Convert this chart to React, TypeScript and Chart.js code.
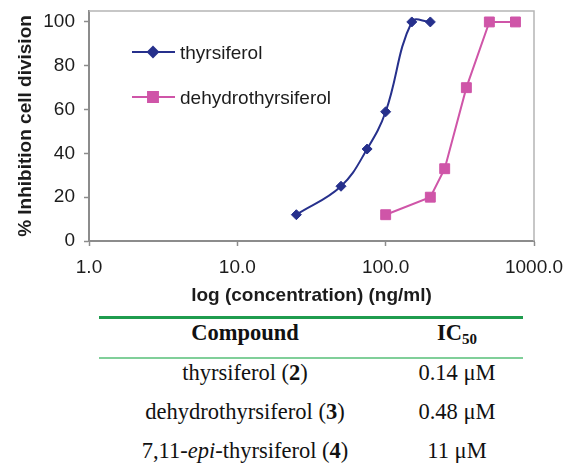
import React, { useEffect, useRef } from "react";
import { Chart, registerables } from "chart.js";
import { drawPoint } from "chart.js/helpers";

Chart.register(...registerables);

// ---- data ----
const thyrsiferolConc = [25, 50, 75, 100, 150, 200];
const thyrsiferolInhib = [12, 25, 42, 59, 100, 100];
const dehydroConc = [100, 200, 250, 350, 500, 750];
const dehydroInhib = [12, 20, 33, 70, 100, 100];
const seriesNames = ["thyrsiferol", "dehydrothyrsiferol"];
const xTickValues = [1, 10, 100, 1000];
const xTickLabels = ["1.0", "10.0", "100.0", "1000.0"];
const yTickValues = [0, 20, 40, 60, 80, 100];
const xAxisTitle = "log (concentration) (ng/ml)";
const yAxisTitle = "% Inhibition cell division";

const compoundHeader = "Compound";
const ic50HeaderMain = "IC";
const ic50HeaderSub = "50";
const compoundNames = ["thyrsiferol", "dehydrothyrsiferol", "7,11-*epi*-thyrsiferol"];
const compoundNumbers = ["2", "3", "4"];
const ic50Values = ["0.14 μM", "0.48 μM", "11 μM"];

// ---- styles ----
const SANS = "'Liberation Sans', Arial, Helvetica, sans-serif";
const SERIF = "'Liberation Serif', 'Times New Roman', Times, serif";
const TEXT = "#1c1c1c";
const BLUE = "#26308c";
const PINK = "#cf55a8";
const AXIS = "#8c8c8c";
const FRAME = "#b5b5b5";

const framePlugin = {
  id: "plotFrame",
  beforeDatasetsDraw(chart: any) {
    const { ctx, chartArea } = chart;
    const { left, top, right, bottom } = chartArea;
    ctx.save();
    ctx.strokeStyle = FRAME;
    ctx.lineWidth = 1.5;
    ctx.beginPath();
    ctx.moveTo(left, top);
    ctx.lineTo(right, top);
    ctx.lineTo(right, bottom);
    ctx.stroke();
    ctx.restore();
  },
};

const insideLegend = {
  id: "insideLegend",
  afterDatasetsDraw(chart: any) {
    const { ctx, chartArea } = chart;
    chart.data.datasets.forEach((ds: any, i: number) => {
      const y = chartArea.top + 41 + i * 45;
      const x0 = chartArea.left + 43;
      const x1 = chartArea.left + 86;
      const xm = chartArea.left + 64;
      ctx.save();
      ctx.strokeStyle = ds.borderColor;
      ctx.lineWidth = 2;
      ctx.beginPath();
      ctx.moveTo(x0, y);
      ctx.lineTo(x1, y);
      ctx.stroke();
      ctx.fillStyle = ds.pointBackgroundColor;
      ctx.strokeStyle = ds.pointBorderColor;
      drawPoint(
        ctx,
        { pointStyle: ds.pointStyle, radius: ds.pointRadius, rotation: 0, borderWidth: 1 } as any,
        xm,
        y
      );
      ctx.fillStyle = TEXT;
      ctx.font = `19px ${SANS}`;
      ctx.textBaseline = "middle";
      ctx.textAlign = "left";
      ctx.fillText(ds.label, chartArea.left + 91, y + 2);
      ctx.restore();
    });
  },
};

function renderCompound(name: string, num: string) {
  const parts = name.split("*");
  return (
    <>
      {parts.map((p, i) => (i % 2 === 1 ? <i key={i}>{p}</i> : <span key={i}>{p}</span>))}
      {" ("}
      <b>{num}</b>
      {")"}
    </>
  );
}

export default function App() {
  const ref = useRef<HTMLCanvasElement>(null);

  useEffect(() => {
    if (!ref.current) return;
    const chart = new Chart(ref.current, {
      type: "line",
      data: {
        datasets: [
          {
            label: seriesNames[0],
            data: thyrsiferolConc.map((x, i) => ({ x, y: thyrsiferolInhib[i] })),
            borderColor: BLUE,
            backgroundColor: BLUE,
            pointBackgroundColor: BLUE,
            pointBorderColor: BLUE,
            pointStyle: "rectRot",
            pointRadius: 5,
            pointBorderWidth: 1,
            borderWidth: 2,
            tension: 0.4,
            fill: false,
          },
          {
            label: seriesNames[1],
            data: dehydroConc.map((x, i) => ({ x, y: dehydroInhib[i] })),
            borderColor: PINK,
            backgroundColor: PINK,
            pointBackgroundColor: PINK,
            pointBorderColor: PINK,
            pointStyle: "rect",
            pointRadius: 7,
            pointBorderWidth: 1,
            borderWidth: 2,
            tension: 0,
            fill: false,
          },
        ],
      },
      options: {
        responsive: false,
        maintainAspectRatio: false,
        animation: false,
        devicePixelRatio: 1,
        layout: { padding: { top: 11, right: 35, left: 0, bottom: 0 } },
        plugins: {
          legend: { display: false },
          tooltip: { enabled: false },
        },
        scales: {
          x: {
            type: "logarithmic",
            position: "bottom",
            min: 1,
            max: 1000,
            afterBuildTicks: (s: any) => {
              s.ticks = xTickValues.map((v) => ({ value: v }));
            },
            afterFit: (s: any) => {
              s.height = 71;
              s.paddingLeft = 0;
              s.paddingRight = 0;
            },
            ticks: {
              autoSkip: false,
              maxRotation: 0,
              padding: 10,
              color: TEXT,
              font: { family: SANS, size: 19 },
              callback: (v: any) => xTickLabels[xTickValues.indexOf(Number(v))] ?? "",
            },
            grid: {
              display: true,
              drawOnChartArea: false,
              drawTicks: true,
              tickLength: 5,
              tickColor: AXIS,
              tickWidth: 1.5,
            },
            border: { display: true, color: AXIS, width: 2 },
            title: {
              display: true,
              text: xAxisTitle,
              color: TEXT,
              font: { family: SANS, size: 19, weight: "bold" },
              padding: { top: 0, bottom: 5 },
            },
          },
          y: {
            type: "linear",
            min: 0,
            max: 105,
            afterBuildTicks: (s: any) => {
              s.ticks = yTickValues.map((v) => ({ value: v }));
            },
            afterFit: (s: any) => {
              s.width = 89;
              s.paddingTop = 0;
              s.paddingBottom = 0;
            },
            ticks: {
              padding: 9,
              color: TEXT,
              font: { family: SANS, size: 19 },
              callback: (v: any) => String(v),
            },
            grid: {
              display: true,
              drawOnChartArea: false,
              drawTicks: true,
              tickLength: 5,
              tickColor: AXIS,
              tickWidth: 1.5,
            },
            border: { display: true, color: AXIS, width: 2 },
            title: {
              display: true,
              text: yAxisTitle,
              color: TEXT,
              font: { family: SANS, size: 19, weight: "bold" },
              padding: { top: 14, bottom: 0 },
            },
          },
        },
      },
      plugins: [framePlugin, insideLegend],
    } as any);
    return () => chart.destroy();
  }, []);

  const cell = (center: number, top: number, width = 300): React.CSSProperties => ({
    position: "absolute",
    left: center - width / 2,
    width,
    top,
    textAlign: "center",
    lineHeight: "26px",
    fontSize: 22.5,
    fontFamily: SERIF,
    color: "#111",
    whiteSpace: "nowrap",
  });

  const rowTops = [359.6, 398.6, 437.9];

  return (
    <div
      style={{
        position: "absolute",
        left: 0,
        top: 0,
        width: 569,
        height: 472,
        background: "#fff",
        overflow: "hidden",
      }}
    >
      <canvas
        ref={ref}
        width={569}
        height={312}
        style={{ position: "absolute", left: 0, top: 0, width: 569, height: 312 }}
      />
      <div style={{ position: "absolute", left: 99, top: 316, width: 424, height: 3, background: "#1f9c4e" }} />
      <div style={{ position: "absolute", left: 99, top: 357, width: 424, height: 2, background: "#80cf99" }} />
      <div style={{ ...cell(245, 320.2), fontWeight: "bold" }}>{compoundHeader}</div>
      <div style={{ ...cell(457, 320.2, 120), fontWeight: "bold" }}>
        {ic50HeaderMain}
        <span style={{ fontSize: 15, position: "relative", top: 4 }}>{ic50HeaderSub}</span>
      </div>
      {compoundNames.map((n, i) => (
        <div key={"c" + i} style={cell(245, rowTops[i])}>
          {renderCompound(n, compoundNumbers[i])}
        </div>
      ))}
      {ic50Values.map((v, i) => (
        <div key={"v" + i} style={cell(457, rowTops[i], 140)}>
          {v}
        </div>
      ))}
    </div>
  );
}
